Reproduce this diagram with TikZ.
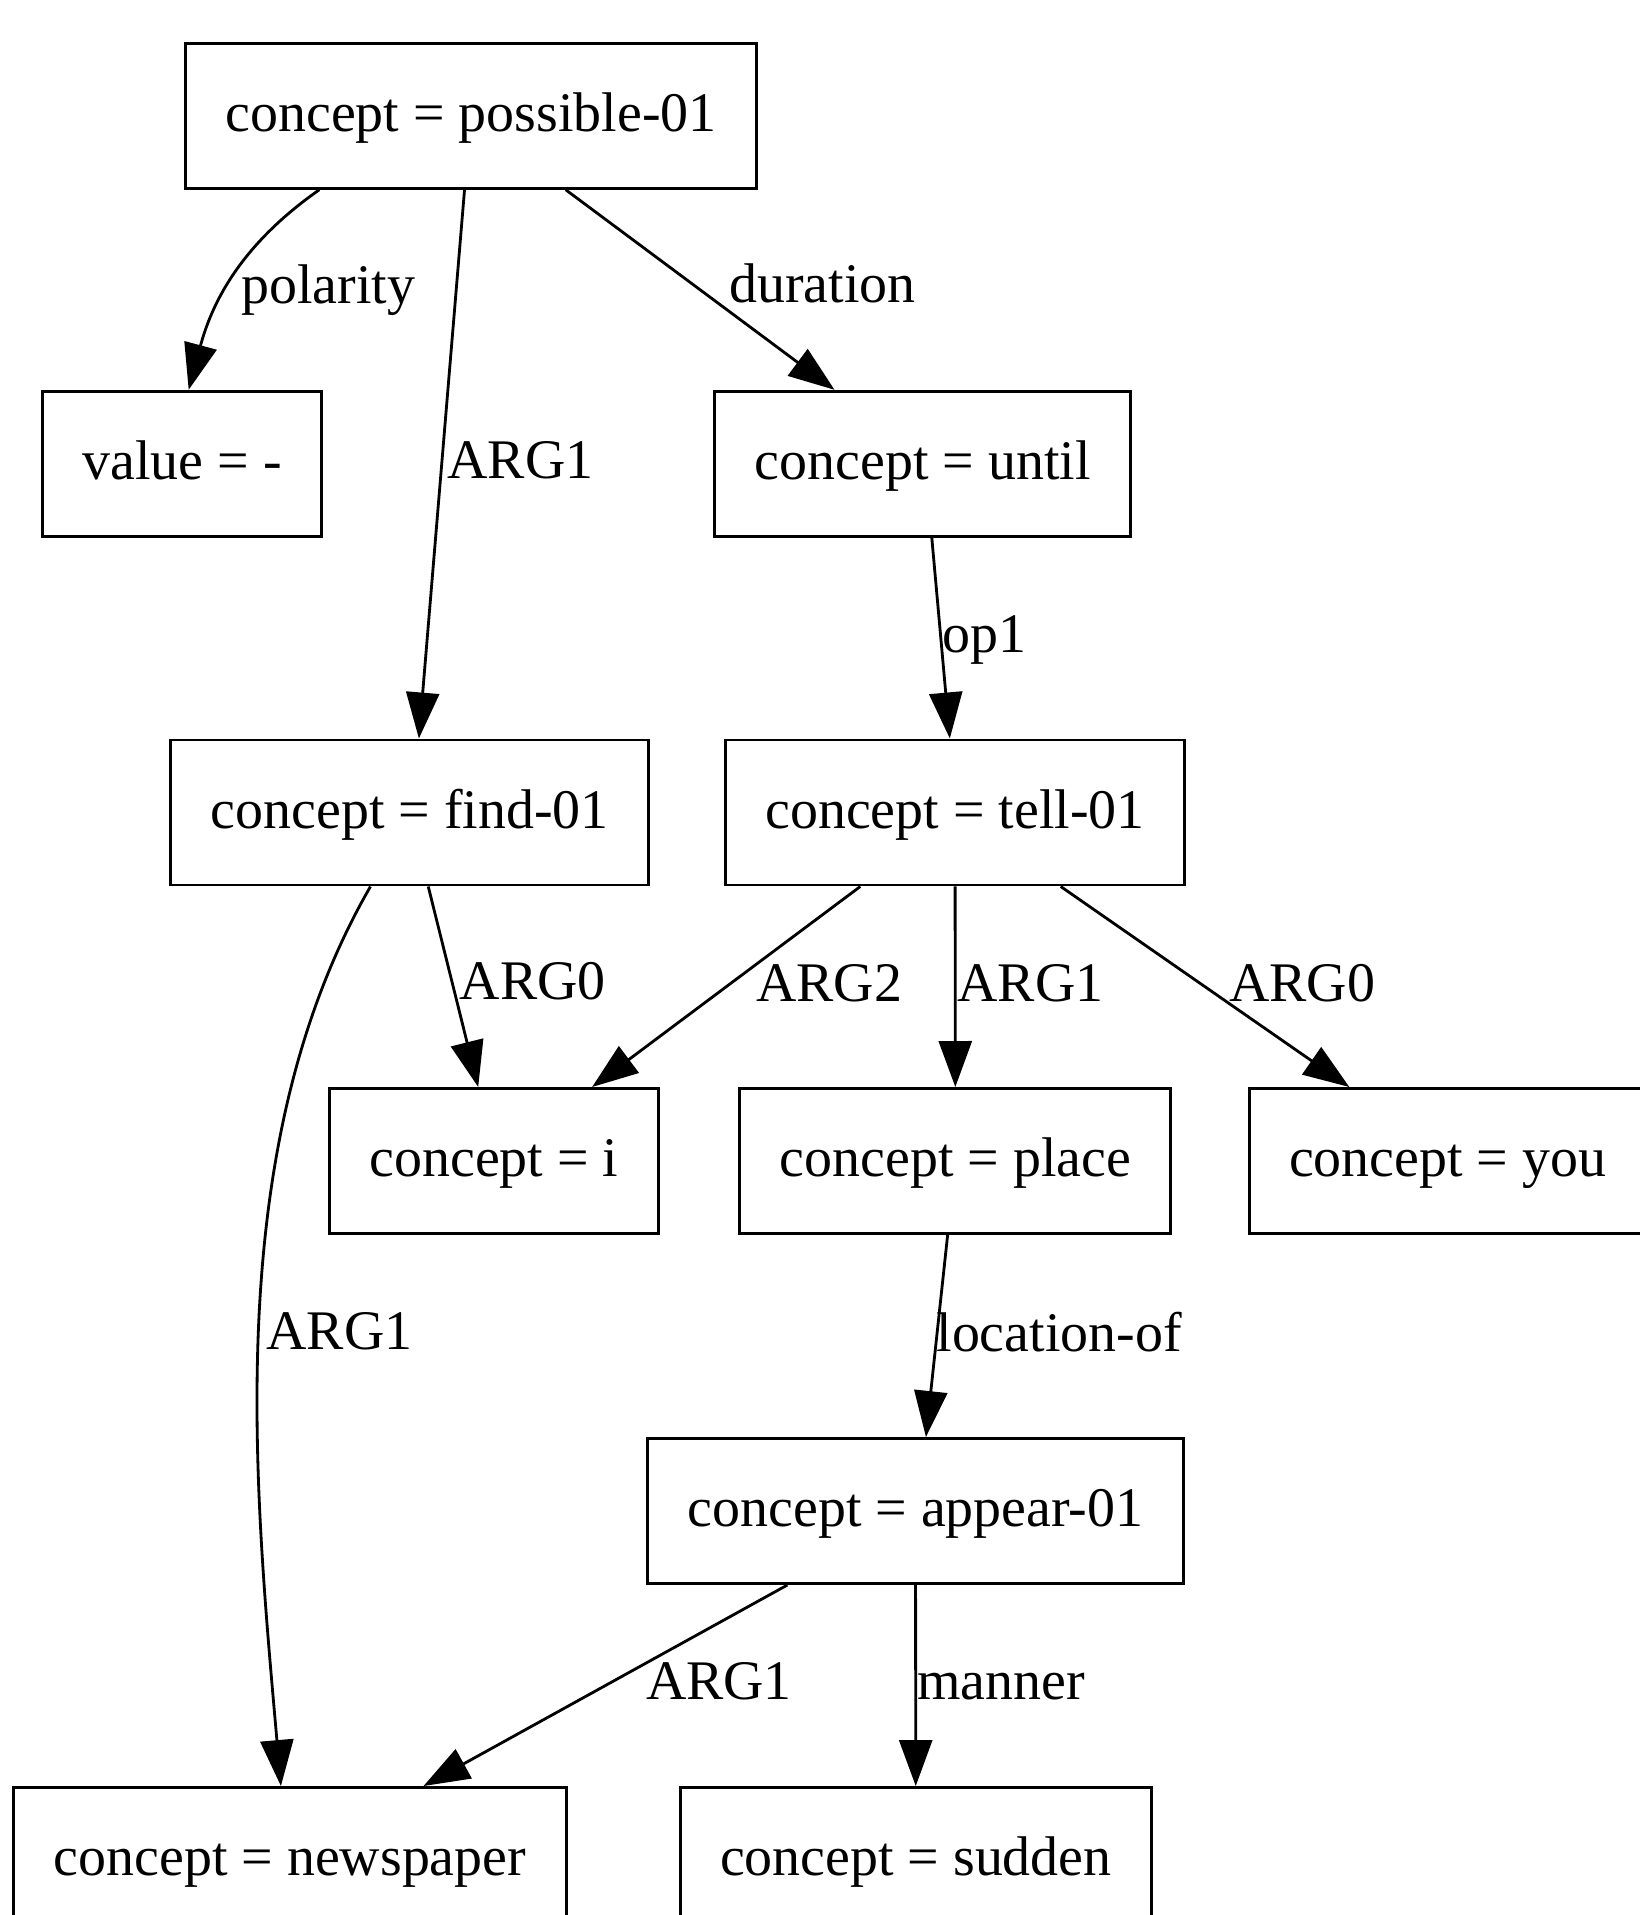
\documentclass[tikz,border=0pt]{standalone}
\usepackage{fontspec}
\setmainfont{Liberation Serif}
\usetikzlibrary{arrows.meta}
\tikzset{
box/.style={draw, rectangle, line width=0.85pt, minimum height=1.45cm, inner xsep=0.4cm, text height=0.40cm, text depth=0.09cm},
edge/.style={line width=0.8pt, -{Triangle[length=4.6mm,width=3.3mm]}},
elabel/.style={anchor=base west, inner sep=0pt}}

\begin{document}
\begin{tikzpicture}[font=\fontsize{15.9}{19}\selectfont]
    \useasboundingbox (0,0) rectangle (16.39,-19.15);

                \node[box] (A) at (4.71,-1.158) {concept = possible-01};
                \node[box] (B) at (1.822,-4.638) {value = -};
                \node[box] (C) at (9.227,-4.638) {concept = until};
                \node[box] (D) at (4.098,-8.125) {concept = find-01};
                \node[box] (E) at (9.55,-8.125) {concept = tell-01};
                \node[box] (F) at (4.939,-11.61) {concept = i};
                \node[box] (G) at (9.554,-11.61) {concept = place};
                \node[box, anchor=west] (H) at (12.475,-11.61) {concept = you};
                \node[box] (I) at (9.155,-15.11) {concept = appear-01};
                \node[box] (J) at (2.90,-18.60) {concept = newspaper};
                \node[box] (K) at (9.158,-18.60) {concept = sudden};

                \draw[edge] (A.-154) to[out=-145, in=75] node[elabel, pos=0.5, xshift=0.054cm, yshift=-0.275cm] {polarity} (B.85.2);
                \draw[edge] (A.-95.7) -- (D.83.9) node[elabel, pos=0.527, xshift=0.056cm] {ARG1};
                \draw[edge] (A.-38.1) -- (C.140.8) node[elabel, pos=0.565, xshift=0.104cm] {duration};
                \draw[edge] (C.-83.8) -- (E.94.7) node[elabel, pos=0.573, xshift=-0.01cm] {op1};
                \draw[edge] (D.-76.4) -- (F.102.1) node[elabel, pos=0.565, xshift=0.02cm] {ARG0};
                \draw[edge] (D.-118.3) to[out=-120, in=95, looseness=0.85] node[elabel, pos=0.53, xshift=0.065cm] {ARG1} (J.97.9);
                \draw[edge] (E.-142.3) -- (F.37) node[elabel, pos=0.573, xshift=0.48cm] {ARG2};
                \draw[edge] (E) -- (G) node[elabel, pos=0.573, xshift=0.01cm] {ARG1};
                \draw[edge] (E.-35.6) -- (H.143.4) node[elabel, pos=0.573, xshift=0.016cm] {ARG0};
                \draw[edge] (G.-96.1) -- (I.82.9) node[elabel, pos=0.578] {location-of};
                \draw[edge] (I.-150.8) -- (J.29.9) node[elabel, pos=0.571, xshift=0.65cm] {ARG1};
                \draw[edge] (I) -- (K) node[elabel, pos=0.571] {manner};

\end{tikzpicture}
\end{document}
